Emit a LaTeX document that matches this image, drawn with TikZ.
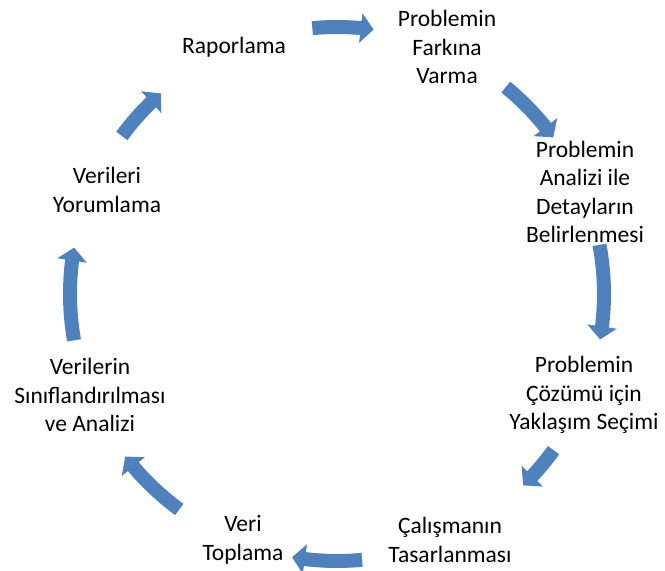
\documentclass[tikz,border=0pt]{standalone}
\usepackage{fontspec}
\setmainfont{Carlito}
\usetikzlibrary{arrows.meta,bending}
\definecolor{cycleblue}{HTML}{4F81BD}
\tikzset{
  lbl/.style={align=center, inner sep=0pt, text=black,
              font=\fontsize{23.5}{28.5}\selectfont},
  cyclearrow/.style={draw=cycleblue, line width=14pt,
              -{Triangle[length=13pt,width=29pt,fill=cycleblue]}}
}
\begin{document}
\begin{tikzpicture}[x=1pt,y=1pt]
\useasboundingbox (0,0) rectangle (665,571);
\coordinate (c) at (337,277);

% stage labels around the cycle
\node[lbl] (rap) at (234,524) {Raporlama};
\node[lbl] (fark) at (447,524) {Problemin\\Farkına\\Varma};
\node[lbl] (anal) at (585,379) {Problemin\\Analizi ile\\Detayların\\Belirlenmesi};
\node[lbl] (coz) at (584,176) {Problemin\\Çözümü için\\Yaklaşım Seçimi};
\node[lbl] (tas) at (450,31) {Çalışmanın\\Tasarlanması};
\node[lbl] (top) at (243,31) {Veri\\Toplama};
\node[lbl] (sin) at (90,176) {Verilerin\\Sınıflandırılması\\ve Analizi};
\node[lbl] (yor) at (107,381) {Verileri\\Yorumlama};

% curved arrows on the circle, clockwise
\newcommand{\cyc}[2]{\draw[cyclearrow] ([shift={(#1:267)}]c) arc[start angle=#1, end angle=#2, radius=267];}
\cyc{95.3}{82.1}
\cyc{50.8}{35.9}
\cyc{10.6}{-9.8}
\cyc{-35.8}{-45.8}
\cyc{-84.6}{-99.7}
\cyc{-126.2}{-142.5}
\cyc{-170}{-190}
\cyc{143.7}{131.3}
\end{tikzpicture}
\end{document}
